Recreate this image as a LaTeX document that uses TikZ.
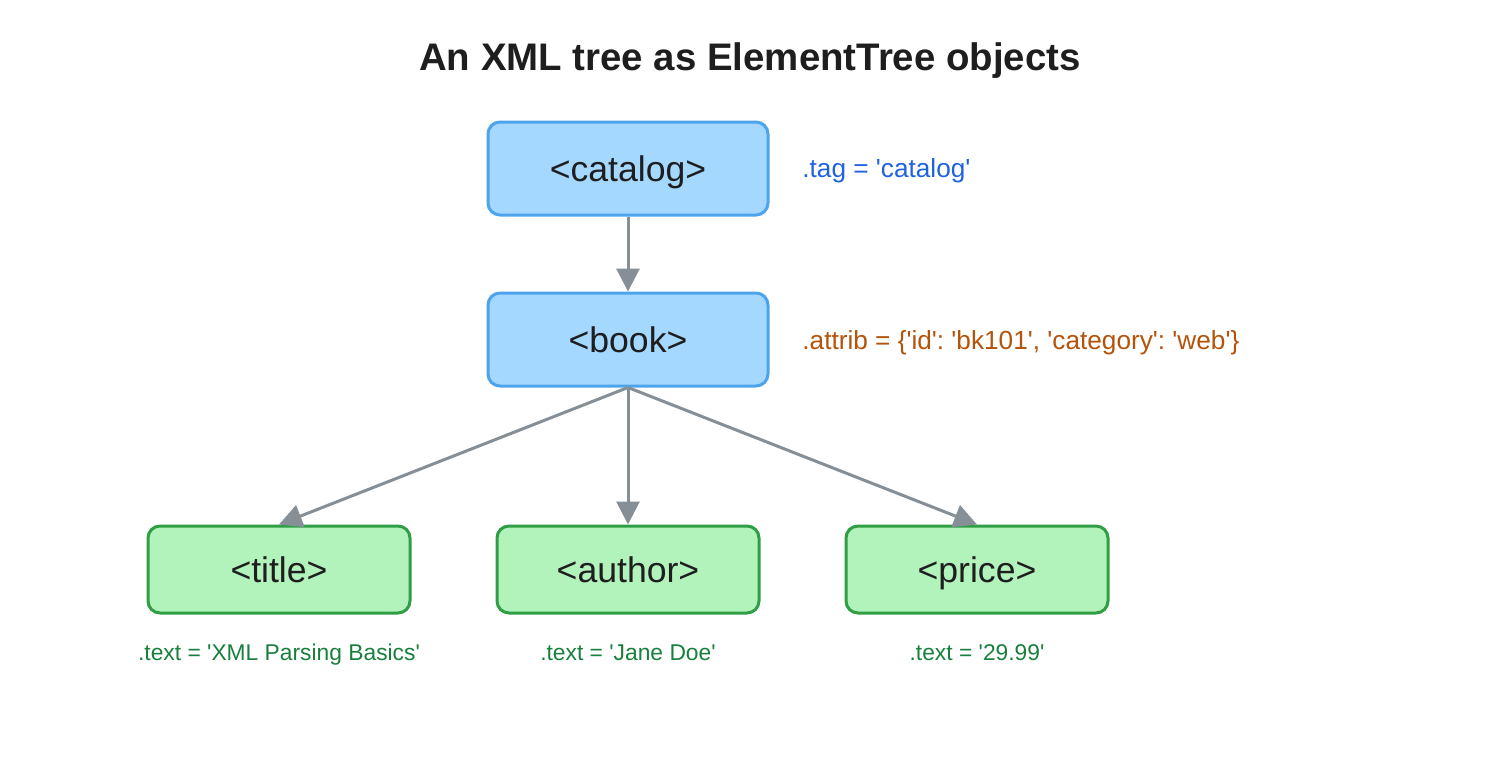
\documentclass[tikz,border=0pt]{standalone}
\usepackage{fontspec}
\setmainfont{Liberation Sans}
\usetikzlibrary{arrows.meta}
\newcommand{\sq}{\textquotesingle}
\frenchspacing
\definecolor{bluefill}{HTML}{A5D8FF}
\definecolor{blueline}{HTML}{4DA3EC}
\definecolor{greenfill}{HTML}{B2F2BB}
\definecolor{greenline}{HTML}{2F9E44}
\definecolor{arrowgray}{HTML}{868E96}
\definecolor{textdark}{HTML}{1E1E1E}
\definecolor{tagblue}{HTML}{1F62E0}
\definecolor{attrorange}{HTML}{B4530A}
\definecolor{textgreen}{HTML}{18803C}
\tikzset{
  elem/.style={draw, line width=1.5pt, rounded corners=6pt, inner sep=0pt,
    text=textdark, font=\fontsize{17.8}{20}\selectfont, text height=12.7pt, text depth=0.2pt},
  parentbox/.style={elem, fill=bluefill, draw=blueline, minimum width=140pt, minimum height=46.5pt},
  childbox/.style={elem, fill=greenfill, draw=greenline, minimum width=131pt, minimum height=43.5pt},
  link/.style={draw=arrowgray, line width=1.5pt, -{Triangle[length=11.5pt,width=11.5pt]}},
  note/.style={font=\fontsize{13.1}{15}\selectfont, anchor=west, inner sep=0pt, text height=9.4pt, text depth=0pt},
  leafnote/.style={font=\fontsize{11.4}{14}\selectfont, text=textgreen, inner sep=0pt, text height=8.2pt, text depth=0pt}
}
\begin{document}
\begin{tikzpicture}[x=0.5pt, y=-0.5pt]
\useasboundingbox (0,0) rectangle (1500,767);
\node[font=\bfseries\fontsize{19.2}{22}\selectfont, text=textdark, text height=13.8pt, text depth=0pt, inner sep=0pt] (title) at (750,57) {An XML tree as ElementTree objects};
\node[parentbox] (catalog) at (628,168.5) {<catalog>};
\node[parentbox] (book) at (628,339.5) {<book>};
\node[childbox] (titleel) at (279,569.5) {<title>};
\node[childbox] (author) at (628,569.5) {<author>};
\node[childbox] (price) at (977,569.5) {<price>};
\node[note, text=tagblue] (tagnote) at (802,168.5) {.tag = \sq catalog\sq};
\node[note, text=attrorange] (attrnote) at (802,340) {.attrib = \{\sq id\sq: \sq bk101\sq, \sq category\sq: \sq web\sq\}};
\node[leafnote] (t1) at (279,652) {.text = \sq XML Parsing Basics\sq};
\node[leafnote] (t2) at (628,652) {.text = \sq Jane Doe\sq};
\node[leafnote] (t3) at (977,652) {.text = \sq 29.99\sq};
\draw[link] (catalog.south) -- (book.north);
\draw[link] (book.south) -- (titleel.north);
\draw[link] (book.south) -- (author.north);
\draw[link] (book.south) -- (price.north);
\end{tikzpicture}
\end{document}
